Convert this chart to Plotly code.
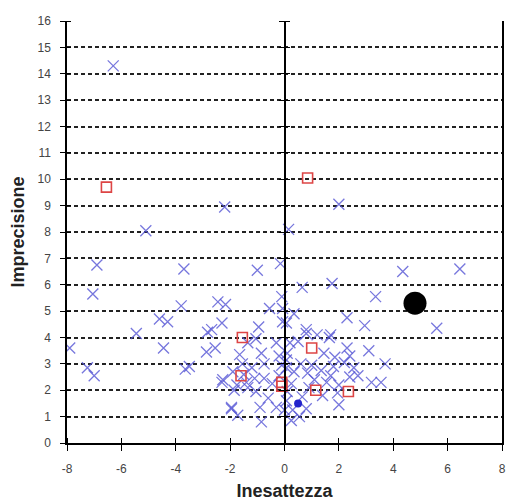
import plotly.graph_objects as go

# Blue crosses (Inesattezza, Imprecisione)
cross_x = [-6.3, -2.2, 2.0, -5.1, 0.15, -6.9, -3.7, -1.0, -0.15, -7.05, 4.35, 6.45, 0.65, 1.75, 3.35, 5.6, 2.95, 2.3, 3.1, 3.7, 3.2, 3.55,
           -7.9, -7.25, -7.0, -5.45, -4.6, -4.3, -4.45, -3.8, -3.65, -3.5, -2.87, -2.55, -2.83, -2.68, -2.3, -2.45, -2.17, -2.27, -1.95, -1.72,
           -0.1, -0.55, -0.07, 0.35, -0.07, 0.8, 1.65, -0.95, -1.05,
           -1.35, -0.85, -0.3, -1.65, -1.55, -1.9, -1.2, -0.75, -0.1, 0.07, -2.3, -1.85, -1.35, -1.05, -0.6, -0.75, -0.45, -1.1, -1.95, -0.9,
           -0.3, 0.07, -0.85, 0.0, 0.07,
           0.8, 1.2, 1.7, 0.2, 0.5, 2.3, 1.45, 1.85, 0.07, 0.6, 1.0, 2.2, 2.55, 0.35, 0.85, 1.35, 1.7, 2.4, 2.7, 0.25, 1.55, 2.0, 0.1, 0.65,
           1.4, 1.95, 2.0, 0.3, 0.8, 0.55, 0.25,
           -1.5, -1.4, -0.2, 0.1, 1.1, 0.9, 1.8, 2.4, -1.75, -0.2]
cross_y = [14.3, 8.95, 9.05, 8.05, 8.1, 6.75, 6.6, 6.55, 6.8, 5.65, 6.5, 6.6, 5.9, 6.05, 5.55, 4.35, 4.45, 4.75, 3.5, 3.0, 2.3, 2.3,
           3.6, 2.85, 2.55, 4.15, 4.7, 4.6, 3.6, 5.2, 2.8, 2.9, 3.45, 3.6, 4.2, 4.3, 4.55, 5.35, 5.25, 2.4, 1.3, 1.05,
           5.55, 5.1, 5.1, 4.9, 4.6, 4.3, 4.0, 4.4, 3.95,
           3.8, 3.4, 3.8, 3.35, 3.0, 2.7, 2.85, 3.0, 2.95, 2.85, 2.3, 2.0, 2.1, 1.95, 1.7, 2.45, 2.25, 2.45, 1.35, 1.35,
           1.35, 1.6, 0.8, 1.25, 4.55,
           4.15, 4.1, 4.1, 3.8, 3.85, 3.6, 3.4, 3.25, 3.15, 3.0, 2.95, 3.05, 2.85, 2.7, 2.65, 2.75, 2.55, 2.5, 2.55, 2.25, 2.3, 2.2, 1.95, 1.75,
           1.8, 1.9, 1.45, 1.25, 1.3, 1.0, 0.85,
           2.6, 2.3, 3.3, 3.4, 2.4, 2.1, 2.9, 3.3, 2.2, 2.55]

# Red open squares
square_x = [-6.55, 0.85, -1.55, -1.6, -0.1, -0.1, 1.0, 1.15, 2.35]
square_y = [9.7, 10.05, 4.0, 2.55, 2.3, 2.15, 3.6, 2.0, 1.95]

# Big black point
black_x = [4.8]
black_y = [5.3]

# Small blue filled point
dot_x = [0.5]
dot_y = [1.5]

x_ticks = [-8, -6, -4, -2, 0, 2, 4, 6, 8]
y_ticks = list(range(0, 17))

fig = go.Figure()
fig.add_trace(go.Scatter(x=cross_x, y=cross_y, mode="markers",
                         marker=dict(symbol="x-thin-open", size=11, color="rgba(85,85,212,0.8)",
                                     line=dict(width=1.3, color="rgba(85,85,212,0.8)")),
                         showlegend=False))
fig.add_trace(go.Scatter(x=dot_x, y=dot_y, mode="markers",
                         marker=dict(symbol="circle", size=8, color="#2222cc"), showlegend=False))
fig.add_trace(go.Scatter(x=square_x, y=square_y, mode="markers",
                         marker=dict(symbol="square-open", size=10, color="#dd4545",
                                     line=dict(width=1.6, color="#dd4545")),
                         showlegend=False))
fig.add_trace(go.Scatter(x=black_x, y=black_y, mode="markers", yaxis="y2",
                         marker=dict(symbol="circle", size=23, color="black"), showlegend=False))

font = dict(family="Liberation Sans, Arial, sans-serif", size=12, color="#444444")
title_font = dict(family="Liberation Sans, Arial, sans-serif", size=18, color="#222222")
grid_dash = "4px,3px"

fig.update_layout(
    width=506, height=501,
    margin=dict(l=67, r=4, t=21, b=58),
    paper_bgcolor="white", plot_bgcolor="white",
    font=font,
    xaxis=dict(range=[-8, 8], tickvals=x_ticks, ticktext=[str(v) for v in x_ticks],
               showgrid=False, zeroline=False, showline=True, linecolor="black", linewidth=1.5,
               ticks="outside", ticklen=6, tickcolor="black", tickwidth=1.2,
               minor=dict(tickvals=x_ticks, ticks="inside", ticklen=5, tickcolor="black", tickwidth=1.2, showgrid=False),
               ticklabelstandoff=8, automargin=False,
               title=dict(text="<b>Inesattezza</b>", font=title_font, standoff=15)),
    yaxis=dict(range=[0, 16], tickvals=y_ticks, ticktext=[str(v) for v in y_ticks],
               showgrid=True, gridcolor="#222222", gridwidth=1.5, griddash=grid_dash,
               zeroline=False, showline=True, linecolor="black", linewidth=1.5, mirror=True,
               ticks="outside", ticklen=5, tickcolor="black", tickwidth=1.2,
               minor=dict(tickvals=y_ticks, ticks="inside", ticklen=4, tickcolor="black", tickwidth=1.2, showgrid=False),
               ticklabelstandoff=7, automargin=False,
               title=dict(text="<b>Imprecisione</b>", font=title_font, standoff=8)),
    yaxis2=dict(range=[0, 16], tickvals=y_ticks, overlaying="y", anchor="free", position=0.5,
                showgrid=False, zeroline=False, showline=True, linecolor="black", linewidth=1.5,
                ticks="outside", ticklen=5, tickcolor="black", tickwidth=1.2,
                minor=dict(tickvals=y_ticks, ticks="inside", ticklen=5, tickcolor="black", tickwidth=1.2, showgrid=False),
                showticklabels=False),
)

fig.write_html("out.html", config={"displayModeBar": False},
               post_script="document.body.style.margin='0';document.body.style.overflow='hidden';")
